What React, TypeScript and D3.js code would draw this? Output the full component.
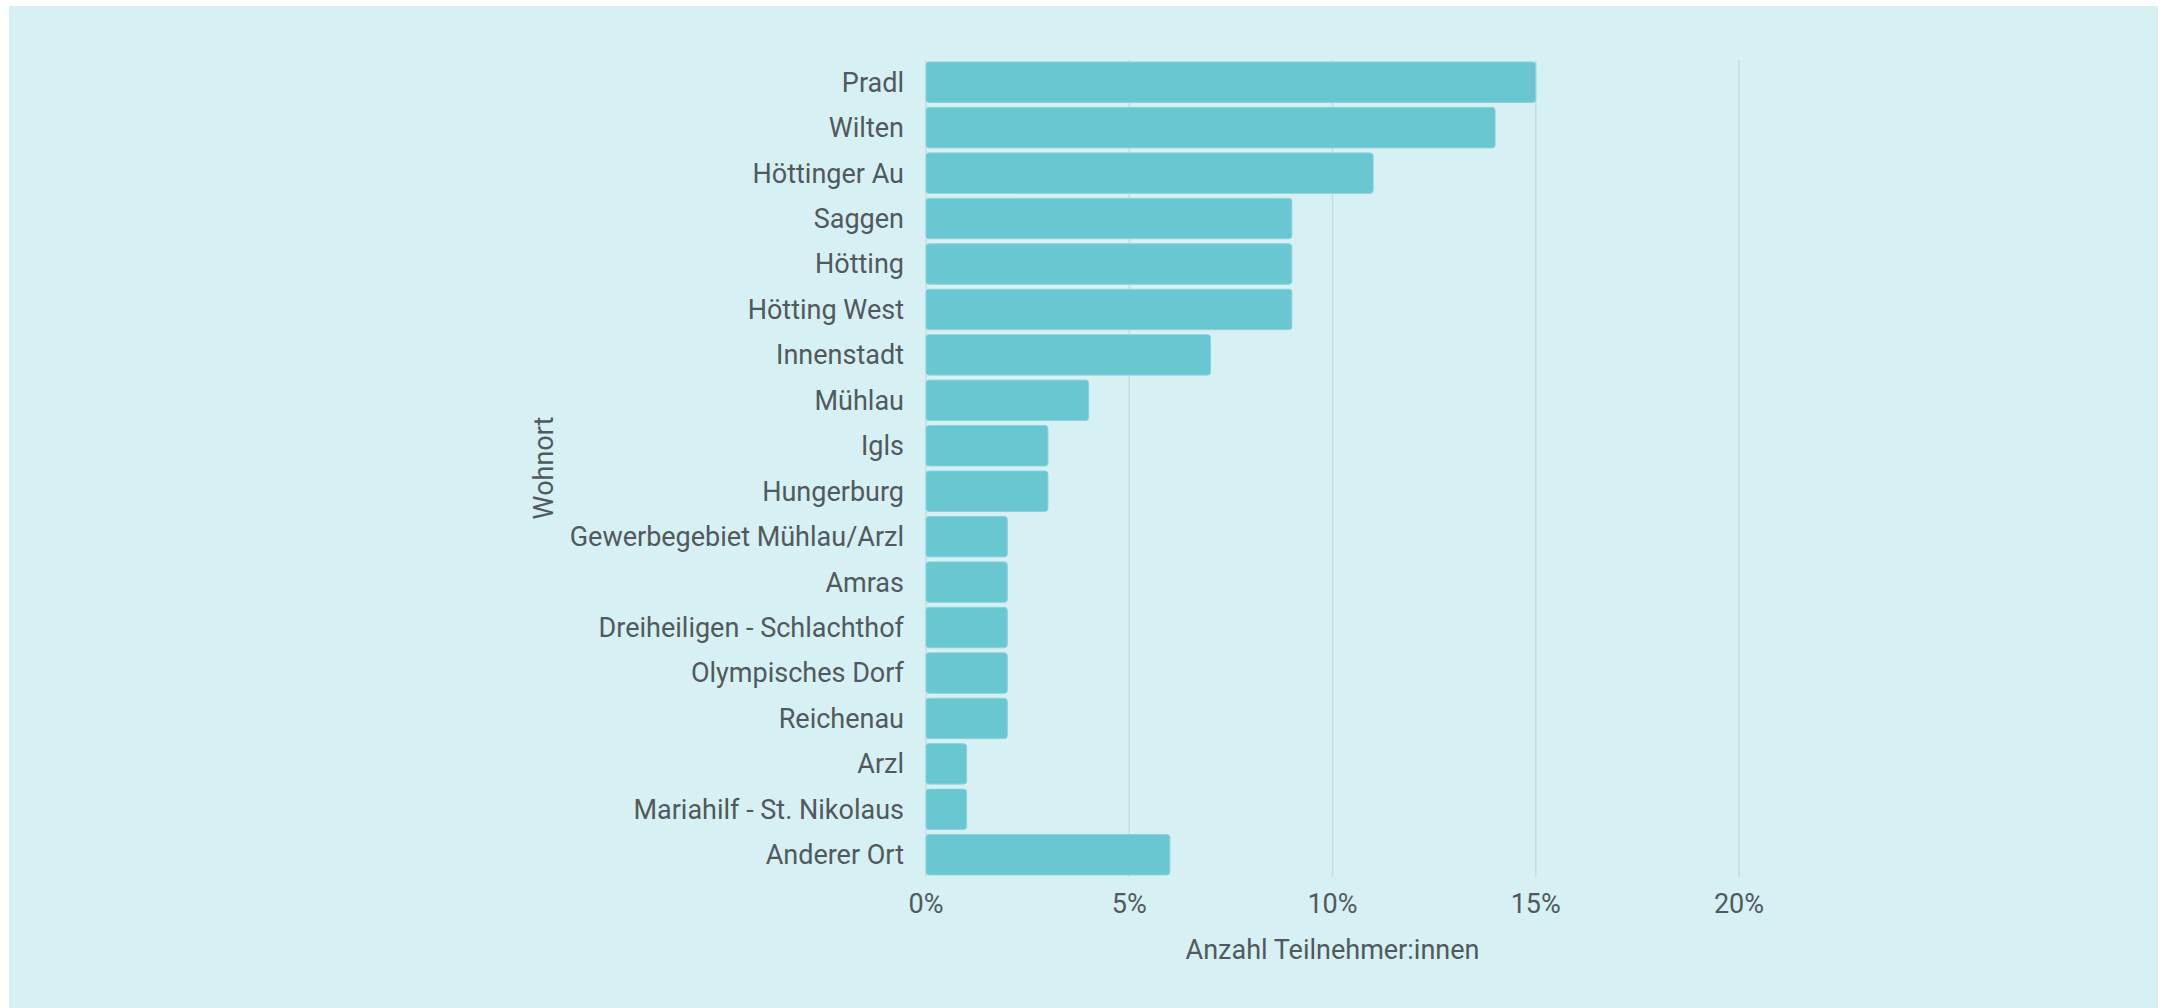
import React from "react";
import * as d3 from "d3";

const categories = [
  "Pradl",
  "Wilten",
  "Höttinger Au",
  "Saggen",
  "Hötting",
  "Hötting West",
  "Innenstadt",
  "Mühlau",
  "Igls",
  "Hungerburg",
  "Gewerbegebiet Mühlau/Arzl",
  "Amras",
  "Dreiheiligen - Schlachthof",
  "Olympisches Dorf",
  "Reichenau",
  "Arzl",
  "Mariahilf - St. Nikolaus",
  "Anderer Ort",
];
const shares = [15, 14, 11, 9, 9, 9, 7, 4, 3, 3, 2, 2, 2, 2, 2, 1, 1, 6];
const xTicks = [0, 5, 10, 15, 20];

const W = 2160;
const H = 1008;
const FONT = "Roboto, 'Noto Sans', sans-serif";
const TEXT = "#505a5c";

export default function App() {
  const x = d3.scaleLinear().domain([0, 20]).range([926, 1739]);
  const y = d3
    .scaleBand<string>()
    .domain(categories)
    .range([62, 875])
    .paddingInner(0.11)
    .paddingOuter(0);

  return (
    <div style={{ position: "absolute", left: 0, top: 0, width: W, height: H }}>
      <svg width={W} height={H} style={{ display: "block" }}>
        <rect x={9} y={6} width={2149} height={H - 6} fill="#d7f0f4" />

        {/* grid */}
        {xTicks.map((t) => (
          <line
            key={t}
            x1={x(t)}
            x2={x(t)}
            y1={60}
            y2={877}
            stroke="#c4dde1"
            strokeWidth={1.5}
          />
        ))}

        {/* bars */}
        {categories.map((c, i) => (
          <rect
            key={c}
            x={x(0)}
            y={y(c)}
            width={x(shares[i]) - x(0)}
            height={y.bandwidth()}
            rx={3}
            fill="#69c7d2"
            stroke="#8ad3dc"
            strokeWidth={1}
          />
        ))}

        {/* category labels */}
        {categories.map((c) => (
          <text
            key={c}
            x={904}
            y={(y(c) ?? 0) + y.bandwidth() / 2}
            dy="0.35em"
            textAnchor="end"
            fontFamily={FONT}
            fontSize={27}
            fill={TEXT}
          >
            {c}
          </text>
        ))}

        {/* x tick labels */}
        {xTicks.map((t) => (
          <text
            key={t}
            x={x(t)}
            y={913}
            textAnchor="middle"
            fontFamily={FONT}
            fontSize={27}
            fill={TEXT}
          >
            {t}%
          </text>
        ))}

        <text
          x={x(10)}
          y={959}
          textAnchor="middle"
          fontFamily={FONT}
          fontSize={27}
          fill={TEXT}
        >
          Anzahl Teilnehmer:innen
        </text>

        <text
          transform={`translate(${553},${468}) rotate(-90)`}
          textAnchor="middle"
          fontFamily={FONT}
          fontSize={27}
          fill={TEXT}
        >
          Wohnort
        </text>
      </svg>
    </div>
  );
}
